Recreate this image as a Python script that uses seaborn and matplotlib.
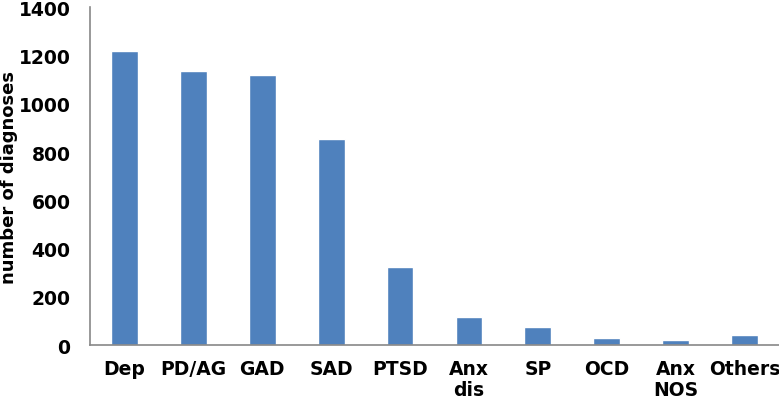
import matplotlib
matplotlib.use("Agg")
import matplotlib.pyplot as plt
import seaborn as sns
import pandas as pd

categories = ["Dep", "PD/AG", "GAD", "SAD", "PTSD", "Anx\ndis", "SP", "OCD", "Anx\nNOS", "Others"]
values = [1219, 1135, 1119, 855, 325, 115, 75, 30, 20, 42]
y_ticks = [0, 200, 400, 600, 800, 1000, 1200, 1400]

sns.set_theme(style="white")
plt.rcParams['font.family'] = ['DejaVu Sans']

df = pd.DataFrame({"cat": categories, "val": values})

fig = plt.figure(figsize=(7.79, 4.02), dpi=100)
ax = fig.add_axes([0.1155, 0.139, 0.8845, 0.840])
sns.barplot(data=df, x="cat", y="val", color="#4F81BD", saturation=1, width=0.39, ax=ax)

ax.set_xlim(-0.5, len(categories) - 0.5)
ax.set_ylim(0, 1400)
ax.set_yticks(y_ticks)
ax.set_yticklabels([str(t) for t in y_ticks], fontsize=13.5, fontweight="bold")
ax.set_xticks(range(len(categories)))
ax.set_xticklabels(categories, fontsize=13.5, fontweight="bold", va="top", linespacing=1.1)
ax.tick_params(axis="x", length=0, pad=10, colors="black")
ax.tick_params(axis="y", length=0, pad=14, colors="black")
ax.set_xlabel("")
ax.set_ylabel("number of diagnoses", fontsize=13, fontweight="bold", color="black")
ax.yaxis.set_label_coords(-0.104, 0.5)

for s in ["top", "right"]:
    ax.spines[s].set_visible(False)
for s in ["left", "bottom"]:
    ax.spines[s].set_color("#888888")
    ax.spines[s].set_linewidth(1.2)

fig.savefig("out.png", dpi=100)
